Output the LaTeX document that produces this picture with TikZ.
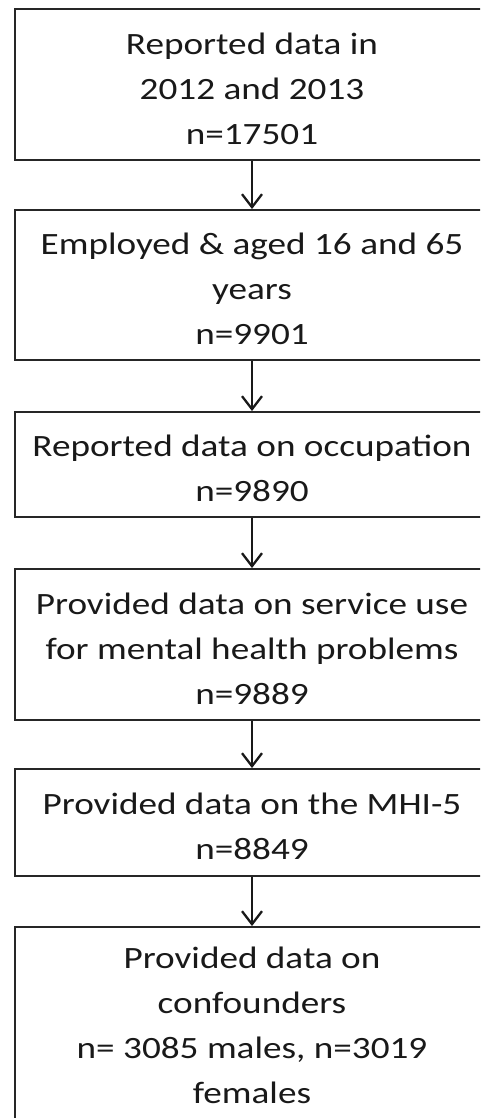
\documentclass[tikz,border=0pt]{standalone}
\usepackage{fontspec}
\setmainfont{Carlito}[FakeStretch=1.2]
\usetikzlibrary{arrows.meta}
\begin{document}
\begin{tikzpicture}[x=1pt,y=-1pt,
  box/.style={draw=black!85, line width=1.9pt, minimum width=474pt, inner sep=0pt},
  txt/.style={align=center, inner sep=0pt, yshift=-4pt,
    font=\fontsize{31}{45}\selectfont, text=black!90},
  arr/.style={line width=2.3pt, draw=black!90,
    -{Straight Barb[length=13pt,width=20pt,line width=2.3pt]}}]
\useasboundingbox (0,0) rectangle (480,1118);
\clip (0,0) rectangle (480,1118);
\node[box, minimum height=151pt] (b1) at (252,84.5) {};
\node[box, minimum height=150pt] (b2) at (252,285) {};
\node[box, minimum height=105pt] (b3) at (252,464.5) {};
\node[box, minimum height=151pt] (b4) at (252,644.5) {};
\node[box, minimum height=107pt] (b5) at (252,822.5) {};
\node[box, minimum height=198pt] (b6) at (252,1026) {};
\node[txt] (t1) at (b1.center) {Reported data in\\2012 and 2013\\n=17501};
\node[txt] (t2) at (b2.center) {Employed \& aged 16 and 65\\years\\n=9901};
\node[txt] (t3) at (b3.center) {Reported data on occupation\\n=9890};
\node[txt] (t4) at (b4.center) {Provided data on service use\\for mental health problems\\n=9889};
\node[txt] (t5) at (b5.center) {Provided data on the MHI-5\\n=8849};
\node[txt] (t6) at (252,1021) {Provided data on\\confounders\\n= 3085 males, n=3019\\females};
\draw[arr] (b1.south) -- (b2.north);
\draw[arr] (b2.south) -- (b3.north);
\draw[arr] (b3.south) -- (b4.north);
\draw[arr] (b4.south) -- (b5.north);
\draw[arr] (b5.south) -- (b6.north);
\end{tikzpicture}
\end{document}
